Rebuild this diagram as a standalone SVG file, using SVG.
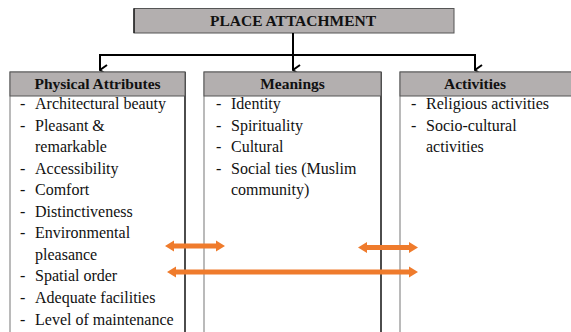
<svg xmlns="http://www.w3.org/2000/svg" width="571" height="332" viewBox="0 0 571 332">
<defs>
<style>
.hdr{fill:#b3afaf;stroke:#555;stroke-width:1}
.box{fill:#fff;stroke:#777;stroke-width:1}
.rb{stroke:#111;stroke-width:1.3}
.ht{font-family:"Liberation Serif","Times New Roman",serif;font-weight:bold;font-size:15.5px;fill:#111;text-anchor:middle}
.t{font-family:"Liberation Serif","Times New Roman",serif;font-size:16px;fill:#111}
.con{stroke:#000;stroke-width:2;fill:none}
.oa{fill:#ef7b2c}
</style>
<marker id="ah" viewBox="0 0 12 10" refX="6" refY="9" markerWidth="12" markerHeight="10" markerUnits="userSpaceOnUse" orient="auto-start-reverse">
<polyline points="1,2 6,9 11,2" fill="none" stroke="#000" stroke-width="2"/>
</marker>
</defs>
<rect width="571" height="332" fill="#fff"/>

<g id="place-attachment">
<rect class="hdr" x="134" y="8.5" width="320" height="24.5"/>
<line x1="134" y1="8.5" x2="134" y2="33" stroke="#111" stroke-width="1.3"/>
<text class="ht" x="293" y="26">PLACE ATTACHMENT</text>
</g>

<g id="connectors">
<path class="con" d="M293,33 V70" marker-end="url(#ah)"/>
<path class="con" d="M100,70 V55 H475 V70" marker-start="url(#ah)" marker-end="url(#ah)"/>
</g>

<g id="physical-attributes">
<rect class="box" x="10" y="72" width="175" height="270"/>
<line class="rb" x1="185" y1="72" x2="185" y2="332"/>
<rect class="hdr" x="10" y="72" width="175" height="24"/>
<text class="ht" x="97.5" y="88.5">Physical Attributes</text>
<g class="t">
<text x="20" y="109">-</text><text x="35" y="109">Architectural beauty</text>
<text x="20" y="131">-</text><text x="35" y="131">Pleasant &amp;</text>
<text x="35" y="152">remarkable</text>
<text x="20" y="174">-</text><text x="35" y="174">Accessibility</text>
<text x="20" y="195">-</text><text x="35" y="195">Comfort</text>
<text x="20" y="217">-</text><text x="35" y="217">Distinctiveness</text>
<text x="20" y="238">-</text><text x="35" y="238">Environmental</text>
<text x="35" y="260">pleasance</text>
<text x="20" y="281">-</text><text x="35" y="281">Spatial order</text>
<text x="20" y="303">-</text><text x="35" y="303">Adequate facilities</text>
<text x="20" y="325">-</text><text x="35" y="325">Level of maintenance</text>
</g>
</g>

<g id="meanings">
<rect class="box" x="204" y="72" width="177" height="270"/>
<line class="rb" x1="381" y1="72" x2="381" y2="332"/>
<rect class="hdr" x="204" y="72" width="177" height="24"/>
<text class="ht" x="292.5" y="88.5">Meanings</text>
<g class="t">
<text x="216" y="109">-</text><text x="231" y="109">Identity</text>
<text x="216" y="131">-</text><text x="231" y="131">Spirituality</text>
<text x="216" y="152">-</text><text x="231" y="152">Cultural</text>
<text x="216" y="174">-</text><text x="231" y="174">Social ties (Muslim</text>
<text x="231" y="195">community)</text>
</g>
</g>

<g id="activities">
<rect class="box" x="400" y="72" width="185" height="270"/>
<rect class="hdr" x="400" y="72" width="185" height="24"/>
<text class="ht" x="475" y="88.5">Activities</text>
<g class="t">
<text x="411" y="109">-</text><text x="426" y="109">Religious activities</text>
<text x="411" y="131">-</text><text x="426" y="131">Socio-cultural</text>
<text x="426" y="152">activities</text>
</g>
</g>

<g id="orange-arrows">
<path class="oa" d="M165,246 L174,240.5 L174,243.5 L216,243.5 L216,240.5 L225,246 L216,251.5 L216,248.5 L174,248.5 L174,251.5 Z"/>
<path class="oa" d="M358,247.5 L367,242 L367,245 L409,245 L409,242 L418,247.5 L409,253 L409,250 L367,250 L367,253 Z"/>
<path class="oa" d="M167,272 L176,266.5 L176,269.5 L409,269.5 L409,266.5 L418,272 L409,277.5 L409,274.5 L176,274.5 L176,277.5 Z"/>
</g>
</svg>
